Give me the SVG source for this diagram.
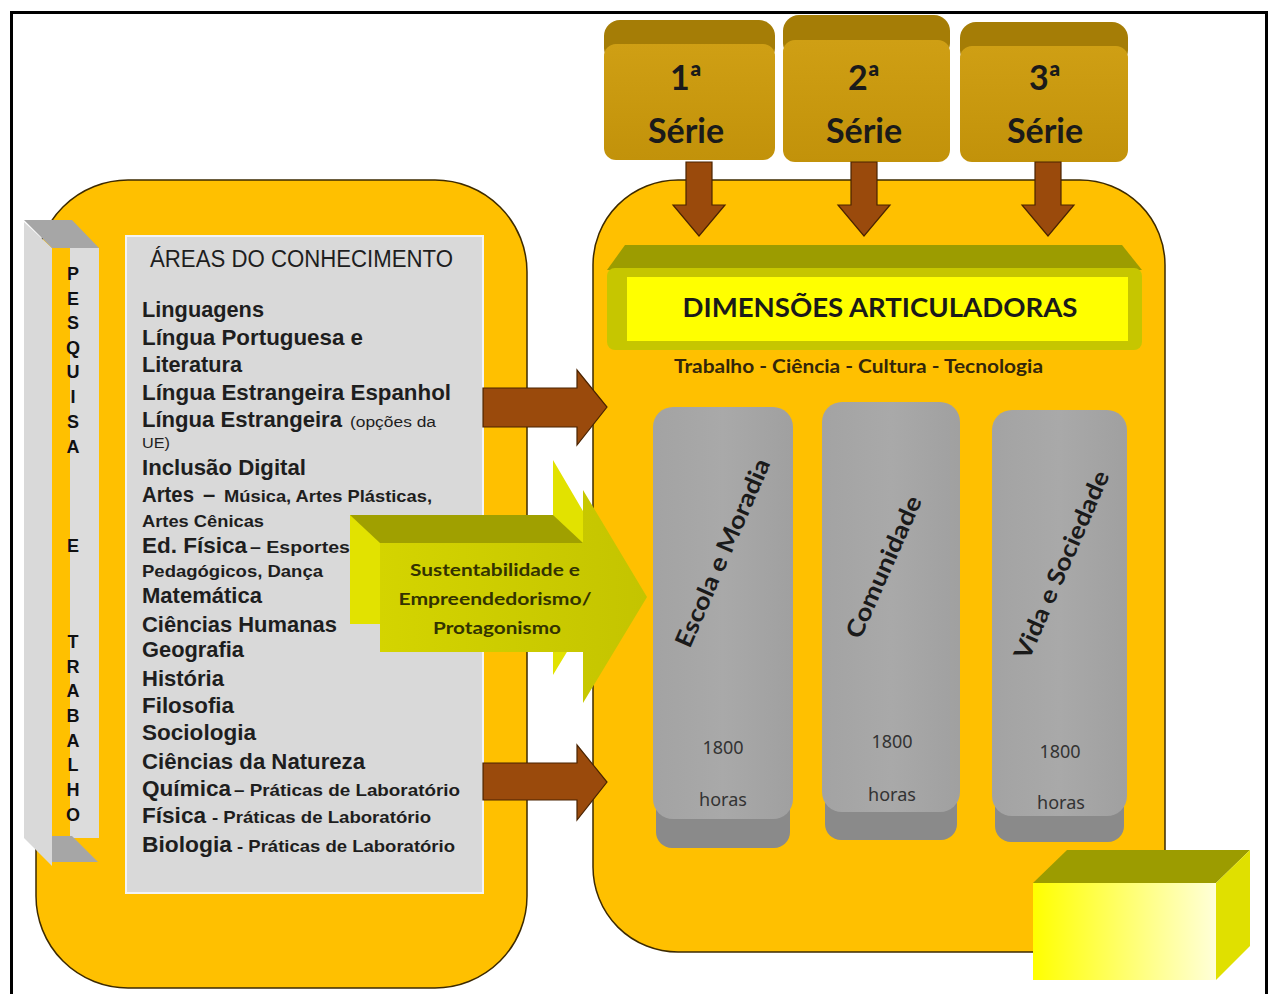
<svg xmlns="http://www.w3.org/2000/svg" width="1272" height="994" viewBox="0 0 1272 994">
<defs>
<linearGradient id="ybox" x1="0" y1="0" x2="1" y2="0"><stop offset="0" stop-color="#ffff00"/><stop offset="1" stop-color="#ffffd8"/></linearGradient>
<linearGradient id="gold" x1="0" y1="0" x2="0" y2="1"><stop offset="0" stop-color="#cf9f14"/><stop offset="1" stop-color="#c2920a"/></linearGradient>
<linearGradient id="garrow" x1="0" y1="0" x2="1" y2="0"><stop offset="0" stop-color="#d4d400"/><stop offset="1" stop-color="#c4c400"/></linearGradient>
<linearGradient id="gcol" x1="0" y1="0" x2="1" y2="0"><stop offset="0" stop-color="#a3a3a3"/><stop offset="0.5" stop-color="#a9a9a9"/><stop offset="1" stop-color="#a0a0a0"/></linearGradient>
<style>
.lst{font-family:"Liberation Sans",Arial,sans-serif;font-weight:bold;font-size:22px;fill:#1e1e1e}
.sm{font-family:"Liberation Sans",Arial,sans-serif;font-weight:bold;font-size:17px;fill:#1e1e1e}
.tiny{font-family:"Liberation Sans",Arial,sans-serif;font-size:14px;fill:#1e1e1e}
.vt{font-family:"Liberation Sans",Arial,sans-serif;font-weight:bold;font-size:18px;fill:#111;text-anchor:middle}
.cal{font-family:Lato,"Open Sans",sans-serif;font-weight:bold;fill:#1a1a1a}
.num{font-family:"Noto Sans","Open Sans",sans-serif;font-size:18px;fill:#333;text-anchor:middle}
.brown{fill:#9a4a0c;stroke:#4a2300;stroke-width:1.2}
.orange{fill:#ffc000;stroke:#3d2a00;stroke-width:1.5}
</style>
</defs>
<rect x="0" y="0" width="1272" height="994" fill="#ffffff"/>
<rect x="11.5" y="12.5" width="1255" height="1000" fill="none" stroke="#000" stroke-width="3"/>

<g id="left-box">
<rect class="orange" x="36" y="180" width="491" height="808" rx="92" ry="92"/>
</g>

<g id="right-box">
<rect class="orange" x="593" y="180" width="572" height="772" rx="85" ry="85"/>
</g>

<g id="pesquisa-trabalho">
<polygon points="24,222 52,248 52,866 24,838" fill="#d9d9d9"/>
<rect x="52" y="248" width="18" height="590" fill="#ffc000"/>
<rect x="70" y="248" width="29" height="590" fill="#dcdcdc"/>
<polygon points="24,220 72,220 99,248 52,248" fill="#a6a6a6"/>
<polygon points="52,836 72,836 98,862 52,862" fill="#a6a6a6"/>
<text class="vt" x="73" y="280">P</text>
<text class="vt" x="73" y="305">E</text>
<text class="vt" x="73" y="329">S</text>
<text class="vt" x="73" y="354">Q</text>
<text class="vt" x="73" y="378">U</text>
<text class="vt" x="73" y="403">I</text>
<text class="vt" x="73" y="428">S</text>
<text class="vt" x="73" y="453">A</text>
<text class="vt" x="73" y="552">E</text>
<text class="vt" x="73" y="648">T</text>
<text class="vt" x="73" y="673">R</text>
<text class="vt" x="73" y="697">A</text>
<text class="vt" x="73" y="722">B</text>
<text class="vt" x="73" y="747">A</text>
<text class="vt" x="73" y="771">L</text>
<text class="vt" x="73" y="796">H</text>
<text class="vt" x="73" y="821">O</text>
</g>

<g id="areas-conhecimento">
<rect x="126" y="236" width="357" height="657" fill="#d9d9d9" stroke="#f4f4f4" stroke-width="2"/>
<text class="lst" x="150" y="267" textLength="303" lengthAdjust="spacingAndGlyphs" style="font-weight:normal;font-size:23px">ÁREAS DO CONHECIMENTO</text>
<text class="lst" x="142" y="317" textLength="122" lengthAdjust="spacingAndGlyphs">Linguagens</text>
<text class="lst" x="142" y="345" textLength="221" lengthAdjust="spacingAndGlyphs">Língua Portuguesa e</text>
<text class="lst" x="142" y="372" textLength="100" lengthAdjust="spacingAndGlyphs">Literatura</text>
<text class="lst" x="142" y="400" textLength="309" lengthAdjust="spacingAndGlyphs">Língua Estrangeira Espanhol</text>
<text class="lst" x="142" y="427" textLength="200" lengthAdjust="spacingAndGlyphs">Língua Estrangeira</text>
<text class="tiny" x="350" y="427" textLength="86" lengthAdjust="spacingAndGlyphs">(opções da</text>
<text class="tiny" x="142" y="448" textLength="28" lengthAdjust="spacingAndGlyphs">UE)</text>
<text class="lst" x="142" y="475" textLength="164" lengthAdjust="spacingAndGlyphs">Inclusão Digital</text>
<text class="lst" x="142" y="502" textLength="52" lengthAdjust="spacingAndGlyphs">Artes</text>
<text class="lst" x="203" y="502">–</text>
<text class="sm" x="224" y="502" textLength="208" lengthAdjust="spacingAndGlyphs">Música, Artes Plásticas,</text>
<text class="sm" x="142" y="527" textLength="122" lengthAdjust="spacingAndGlyphs">Artes Cênicas</text>
<text class="lst" x="142" y="553" textLength="105" lengthAdjust="spacingAndGlyphs">Ed. Física</text>
<text class="sm" x="250" y="553" textLength="100" lengthAdjust="spacingAndGlyphs">– Esportes</text>
<text class="sm" x="142" y="577" textLength="181" lengthAdjust="spacingAndGlyphs">Pedagógicos, Dança</text>
<text class="lst" x="142" y="603" textLength="120" lengthAdjust="spacingAndGlyphs">Matemática</text>
<text class="lst" x="142" y="632" textLength="195" lengthAdjust="spacingAndGlyphs">Ciências Humanas</text>
<text class="lst" x="142" y="657" textLength="102" lengthAdjust="spacingAndGlyphs">Geografia</text>
<text class="lst" x="142" y="686" textLength="82" lengthAdjust="spacingAndGlyphs">História</text>
<text class="lst" x="142" y="713" textLength="92" lengthAdjust="spacingAndGlyphs">Filosofia</text>
<text class="lst" x="142" y="740" textLength="114" lengthAdjust="spacingAndGlyphs">Sociologia</text>
<text class="lst" x="142" y="769" textLength="223" lengthAdjust="spacingAndGlyphs">Ciências da Natureza</text>
<text class="lst" x="142" y="796" textLength="89" lengthAdjust="spacingAndGlyphs">Química</text>
<text class="sm" x="234" y="796" textLength="226" lengthAdjust="spacingAndGlyphs">– Práticas de Laboratório</text>
<text class="lst" x="142" y="823" textLength="64" lengthAdjust="spacingAndGlyphs">Física</text>
<text class="sm" x="212" y="823" textLength="219" lengthAdjust="spacingAndGlyphs">- Práticas de Laboratório</text>
<text class="lst" x="142" y="852" textLength="90" lengthAdjust="spacingAndGlyphs">Biologia</text>
<text class="sm" x="237" y="852" textLength="218" lengthAdjust="spacingAndGlyphs">- Práticas de Laboratório</text>
</g>

<g id="serie-1">
<rect x="604" y="20" width="171" height="44" rx="16" fill="#a57d06"/>
<rect x="604" y="44" width="171" height="116" rx="12" fill="url(#gold)"/>
<text class="cal" x="686" y="90" font-size="34" text-anchor="middle">1ª</text>
<text class="cal" x="686" y="143" font-size="34" text-anchor="middle">Série</text>
</g>
<g id="serie-2">
<rect x="783" y="15" width="167" height="44" rx="16" fill="#a57d06"/>
<rect x="783" y="40" width="167" height="122" rx="12" fill="url(#gold)"/>
<text class="cal" x="864" y="90" font-size="34" text-anchor="middle">2ª</text>
<text class="cal" x="864" y="143" font-size="34" text-anchor="middle">Série</text>
</g>
<g id="serie-3">
<rect x="960" y="22" width="168" height="44" rx="16" fill="#a57d06"/>
<rect x="960" y="46" width="168" height="116" rx="12" fill="url(#gold)"/>
<text class="cal" x="1045" y="90" font-size="34" text-anchor="middle">3ª</text>
<text class="cal" x="1045" y="143" font-size="34" text-anchor="middle">Série</text>
</g>

<g id="dimensoes">
<polygon points="625,245 1122,245 1142,270 607,270" fill="#9c9c00"/>
<rect x="607" y="268" width="535" height="82" rx="8" fill="#c6c600"/>
<rect x="627" y="277" width="501" height="64" fill="#ffff00"/>
<text class="cal" x="880" y="317" font-size="27" text-anchor="middle" textLength="395" lengthAdjust="spacingAndGlyphs">DIMENSÕES ARTICULADORAS</text>
<text class="cal" x="674" y="373" font-size="18" textLength="369" lengthAdjust="spacingAndGlyphs" style="fill:#33260a">Trabalho - Ciência - Cultura - Tecnologia</text>
</g>

<g id="col-escola">
<rect x="656" y="790" width="134" height="58" rx="16" fill="#8a8a8a"/>
<rect x="653" y="407" width="140" height="412" rx="20" fill="url(#gcol)"/>
<text class="cal" transform="translate(723,553) rotate(-66.5)" y="8" font-size="24" text-anchor="middle" textLength="203" lengthAdjust="spacingAndGlyphs">Escola e Moradia</text>
<text class="num" x="723" y="754">1800</text>
<text class="num" x="723" y="806">horas</text>
</g>
<g id="col-comunidade">
<rect x="825" y="782" width="132" height="58" rx="16" fill="#8a8a8a"/>
<rect x="822" y="402" width="138" height="410" rx="20" fill="url(#gcol)"/>
<text class="cal" transform="translate(884,567) rotate(-66)" y="8" font-size="24" text-anchor="middle" textLength="153" lengthAdjust="spacingAndGlyphs">Comunidade</text>
<text class="num" x="892" y="748">1800</text>
<text class="num" x="892" y="801">horas</text>
</g>
<g id="col-vida">
<rect x="995" y="784" width="129" height="58" rx="16" fill="#8a8a8a"/>
<rect x="992" y="410" width="135" height="406" rx="20" fill="url(#gcol)"/>
<text class="cal" transform="translate(1062,565) rotate(-66.5)" y="8" font-size="24" text-anchor="middle" textLength="203" lengthAdjust="spacingAndGlyphs">Vida e Sociedade</text>
<text class="num" x="1060" y="758">1800</text>
<text class="num" x="1061" y="809">horas</text>
</g>

<g id="connectors">
<polygon class="brown" points="686,162 712,162 712,205 725,205 699,236 673,205 686,205"/>
<polygon class="brown" points="851,162 877,162 877,205 890,205 864,236 838,205 851,205"/>
<polygon class="brown" points="1035,162 1061,162 1061,205 1074,205 1048,236 1022,205 1035,205"/>
<polygon class="brown" points="483,388 577,388 577,370 607,407 577,445 577,427 483,427"/>
<polygon class="brown" points="483,763 577,763 577,745 607,782 577,820 577,800 483,800"/>
</g>

<g id="sustentabilidade">
<polygon points="350,515 553,515 553,460 617,569 553,675 553,624 350,624" fill="#e2e200"/>
<polygon points="350,515 553,515 583,543 380,543" fill="#a0a000"/>
<polygon points="380,543 583,543 583,490 647,597 583,703 583,652 380,652" fill="url(#garrow)"/>
<text class="cal" x="495" y="576" font-size="17" text-anchor="middle" textLength="170" lengthAdjust="spacingAndGlyphs" style="fill:#333300">Sustentabilidade e</text>
<text class="cal" x="495" y="605" font-size="17" text-anchor="middle" textLength="193" lengthAdjust="spacingAndGlyphs" style="fill:#333300">Empreendedorismo/</text>
<text class="cal" x="497" y="634" font-size="17" text-anchor="middle" textLength="128" lengthAdjust="spacingAndGlyphs" style="fill:#333300">Protagonismo</text>
</g>

<g id="yellow-cube">
<polygon points="1033,883 1067,850 1250,850 1216,883" fill="#9c9c00"/>
<polygon points="1216,883 1250,850 1250,946 1216,980" fill="#e0e000"/>
<rect x="1033" y="883" width="183" height="97" fill="url(#ybox)"/>
</g>
</svg>
